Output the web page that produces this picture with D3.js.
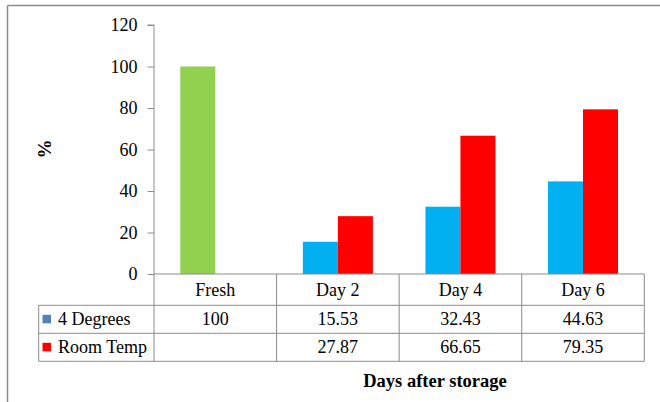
<!DOCTYPE html>
<html>
<head>
<meta charset="utf-8">
<script src="https://cdn.jsdelivr.net/npm/d3@7/dist/d3.min.js"></script>
<style>
  html, body { margin: 0; padding: 0; background: #fff; }
  svg, svg text { font-family: "Liberation Serif", "Times New Roman", serif !important; }
</style>
</head>
<body>
<svg id="chart" width="660" height="402"></svg>
<script>
const categories = ["Fresh", "Day 2", "Day 4", "Day 6"];
const seriesNames = ["4 Degrees", "Room Temp"];
const fourDegrees = [100, 15.53, 32.43, 44.63];
const roomTemp = [null, 27.87, 66.65, 79.35];
const yTicks = [0, 20, 40, 60, 80, 100, 120];
const yLabel = "%";
const xTitle = "Days after storage";

const series = [fourDegrees, roomTemp];
const barColors = ["#00B0F0", "#FF0000"];
const legendColors = ["#4F81BD", "#FF0000"];
const freshColor = "#92D050";
const gridColor = "#8C8C8C";
const FS = 18;

const svg = d3.select("#chart");

// outer frame (top + left edge)
svg.append("line").attr("x1", 7.5).attr("x2", 660).attr("y1", 5.5).attr("y2", 5.5)
  .attr("stroke", "#8C8C8C").attr("stroke-width", 1.5);
svg.append("line").attr("x1", 7.5).attr("x2", 7.5).attr("y1", 5.5).attr("y2", 402)
  .attr("stroke", "#8C8C8C").attr("stroke-width", 1.5);

const plotLeft = 154, plotRight = 644.3, plotTop = 25, plotBottom = 274;

const x = d3.scaleBand().domain(categories).range([plotLeft, plotRight]).paddingInner(0).paddingOuter(0);
const y = d3.scaleLinear().domain([0, 120]).range([plotBottom, plotTop]);
const barW = 35;
const xSub = d3.scaleBand().domain(seriesNames).range([0, barW * 2]);

// bars
series.forEach((vals, si) => {
  svg.append("g").selectAll("rect")
    .data(vals.map((v, i) => ({ v, c: categories[i], i })).filter(d => d.v != null))
    .join("rect")
    .attr("x", d => x(d.c) + x.bandwidth() / 2 - barW + xSub(seriesNames[si]))
    .attr("width", xSub.bandwidth())
    .attr("y", d => y(d.v))
    .attr("height", d => y(0) - y(d.v))
    .attr("fill", d => (si === 0 && d.c === "Fresh") ? freshColor : barColors[si]);
});

// y axis
const yAxis = d3.axisLeft(y).tickValues(yTicks).tickSize(6.5).tickPadding(10).tickFormat(d3.format("d"));
const gy = svg.append("g").attr("transform", `translate(${plotLeft},0)`).call(yAxis);
gy.attr("font-family", null).attr("font-size", null);
gy.select(".domain").attr("stroke", gridColor).attr("d", `M-6.5,${plotTop}H0V${plotBottom}`);
gy.selectAll(".tick line").attr("stroke", gridColor);
gy.selectAll(".tick text").style("font-size", FS + "px").attr("fill", "#000");

// y label
svg.append("text")
  .attr("transform", "translate(44,149) rotate(-90)")
  .attr("text-anchor", "middle").attr("dominant-baseline", "central")
  .style("font-size", "19px").attr("font-weight", "bold").text(yLabel);

// data table
const tableLeft = 38.7;
const rowY = [plotBottom, 305.3, 333.3, 361.3];
const tg = svg.append("g").attr("stroke", gridColor).attr("stroke-width", 1).attr("fill", "none");
tg.append("line").attr("x1", plotLeft).attr("x2", plotRight).attr("y1", rowY[0]).attr("y2", rowY[0]);
[1, 2, 3].forEach(r => {
  tg.append("line").attr("x1", tableLeft).attr("x2", plotRight).attr("y1", rowY[r]).attr("y2", rowY[r]);
});
tg.append("line").attr("x1", tableLeft).attr("x2", tableLeft).attr("y1", rowY[1]).attr("y2", rowY[3]);
categories.concat([null]).forEach((c, i) => {
  const xx = c == null ? plotRight : x(c);
  tg.append("line").attr("x1", xx).attr("x2", xx).attr("y1", rowY[0]).attr("y2", rowY[3]);
});

// header row
svg.append("g").selectAll("text").data(categories).join("text")
  .attr("x", d => x(d) + x.bandwidth() / 2)
  .attr("y", (rowY[0] + rowY[1]) / 2)
  .attr("text-anchor", "middle").attr("dominant-baseline", "central")
  .style("font-size", FS + "px").text(d => d);

// value rows
series.forEach((vals, si) => {
  const cy = (rowY[si + 1] + rowY[si + 2]) / 2;
  svg.append("g").selectAll("text").data(vals.map((v, i) => ({ v, c: categories[i] })).filter(d => d.v != null))
    .join("text")
    .attr("x", d => x(d.c) + x.bandwidth() / 2)
    .attr("y", cy)
    .attr("text-anchor", "middle").attr("dominant-baseline", "central")
    .style("font-size", FS + "px").text(d => String(d.v));
  svg.append("rect").attr("x", 42.5).attr("y", cy - 4.5).attr("width", 8.5).attr("height", 8.5)
    .attr("fill", legendColors[si]);
  svg.append("text").attr("x", 58).attr("y", cy)
    .attr("dominant-baseline", "central").style("font-size", FS + "px").text(seriesNames[si]);
});

// x title
svg.append("text")
  .attr("x", 435).attr("y", 381)
  .attr("text-anchor", "middle").attr("dominant-baseline", "central")
  .style("font-size", "18.5px").attr("font-weight", "bold").text(xTitle);
</script>
</body>
</html>
